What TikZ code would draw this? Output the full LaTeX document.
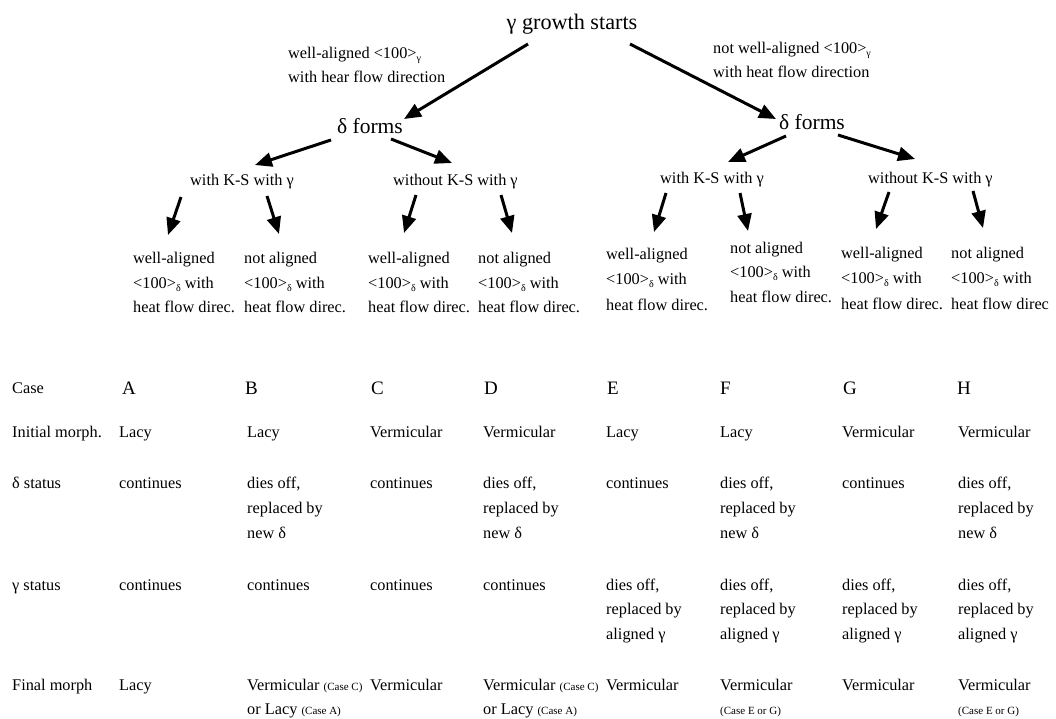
\documentclass[tikz,border=0pt]{standalone}
\usepackage{fontspec}
\setmainfont{Liberation Serif}
\usetikzlibrary{arrows.meta}
\newcommand\sbs[1]{\raisebox{-3pt}{\fontsize{10}{10}\selectfont #1}}
\newcommand\smc[1]{{\fontsize{11}{11}\selectfont #1}}
\tikzset{
 txt/.style={font=\fontsize{16.3}{19}\selectfont, inner sep=0pt, anchor=base west},
 big/.style={font=\fontsize{21.5}{24}\selectfont, inner sep=0pt, anchor=base},
 hdr/.style={font=\fontsize{19}{22}\selectfont, inner sep=0pt, anchor=base west},
 arr/.style={line width=3pt, -{Triangle[length=17pt,width=14pt]}},
}
\begin{document}
\begin{tikzpicture}[x=1pt,y=-1pt]
\useasboundingbox (0,0) rectangle (1056,718);
% tree
\node[big, font=\fontsize{22.2}{24}\selectfont] (top) at (572,29) {γ growth starts};
\node[txt] (lw1) at (288,58) {well-aligned <100>\sbs{γ}};
\node[txt] (lw2) at (288,82) {with hear flow direction};
\node[txt] (rw1) at (713,53) {not well-aligned <100>\sbs{γ}};
\node[txt] (rw2) at (713,77) {with heat flow direction};
\node[big] (dL) at (370,133) {δ forms};
\node[big] (dR) at (812,129) {δ forms};
\node[txt] (ksL) at (190,185) {with K-S with γ};
\node[txt] (nksL) at (393,185) {without K-S with γ};
\node[txt] (ksR) at (660,183) {with K-S with γ};
\node[txt] (nksR) at (868,183) {without K-S with γ};
% leaves
\node[txt] (l1a) at (133,263) {well-aligned};
\node[txt] (l1b) at (133,288) {<100>\sbs{δ} with};
\node[txt] (l1c) at (133,312) {heat flow direc.};
\node[txt] (l2a) at (244,263) {not aligned};
\node[txt] (l2b) at (244,288) {<100>\sbs{δ} with};
\node[txt] (l2c) at (244,312) {heat flow direc.};
\node[txt] (l3a) at (368,263) {well-aligned};
\node[txt] (l3b) at (368,288) {<100>\sbs{δ} with};
\node[txt] (l3c) at (368,312) {heat flow direc.};
\node[txt] (l4a) at (478,263) {not aligned};
\node[txt] (l4b) at (478,288) {<100>\sbs{δ} with};
\node[txt] (l4c) at (478,312) {heat flow direc.};
\node[txt] (l5a) at (606,259) {well-aligned};
\node[txt] (l5b) at (606,284) {<100>\sbs{δ} with};
\node[txt] (l5c) at (606,310) {heat flow direc.};
\node[txt] (l6a) at (730,253) {not aligned};
\node[txt] (l6b) at (730,277) {<100>\sbs{δ} with};
\node[txt] (l6c) at (730,302) {heat flow direc.};
\node[txt] (l7a) at (841,258) {well-aligned};
\node[txt] (l7b) at (841,283) {<100>\sbs{δ} with};
\node[txt] (l7c) at (841,309) {heat flow direc.};
\node[txt] (l8a) at (951,258) {not aligned};
\node[txt] (l8b) at (951,283) {<100>\sbs{δ} with};
\node[txt] (l8c) at (951,309) {heat flow direc};
% arrows
\coordinate (a1s) at (528,44);  \coordinate (a1e) at (404,119);
\coordinate (a2s) at (630,44);  \coordinate (a2e) at (776,119);
\coordinate (b1s) at (331,140); \coordinate (b1e) at (255,165);
\coordinate (b2s) at (391,139); \coordinate (b2e) at (452,163);
\coordinate (b3s) at (786,136); \coordinate (b3e) at (728,162);
\coordinate (b4s) at (838,135); \coordinate (b4e) at (915,159);
\coordinate (c1s) at (181,197); \coordinate (c1e) at (168,235);
\coordinate (c2s) at (267,196); \coordinate (c2e) at (279,234);
\coordinate (c3s) at (416,195); \coordinate (c3e) at (404,233);
\coordinate (c4s) at (501,195); \coordinate (c4e) at (512,233);
\coordinate (c5s) at (666,193); \coordinate (c5e) at (654,232);
\coordinate (c6s) at (740,193); \coordinate (c6e) at (748,231);
\coordinate (c7s) at (889,192); \coordinate (c7e) at (876,229);
\coordinate (c8s) at (973,191); \coordinate (c8e) at (983,228);
\foreach \p in {a1,a2,b1,b2,b3,b4,c1,c2,c3,c4,c5,c6,c7,c8}
  \draw[arr] (\p s) -- (\p e);
% table
\node[txt] (hCase) at (12,393) {Case};
\node[hdr] (hA) at (122,394) {A};
\node[hdr] (hB) at (245,394) {B};
\node[hdr] (hC) at (371,394) {C};
\node[hdr] (hD) at (484,394) {D};
\node[hdr] (hE) at (607,394) {E};
\node[hdr] (hF) at (720,394) {F};
\node[hdr] (hG) at (843,394) {G};
\node[hdr] (hH) at (957,394) {H};
\node[txt] (hIni) at (12,437) {Initial morph.};
\node[txt] (iA) at (119,437) {Lacy};
\node[txt] (iB) at (247,437) {Lacy};
\node[txt] (iC) at (370,437) {Vermicular};
\node[txt] (iD) at (483,437) {Vermicular};
\node[txt] (iE) at (606,437) {Lacy};
\node[txt] (iF) at (720,437) {Lacy};
\node[txt] (iG) at (842,437) {Vermicular};
\node[txt] (iH) at (958,437) {Vermicular};
\node[txt] (hDel) at (12,488) {δ status};
\node[txt] (dA) at (119,488) {continues};
\node[txt] (dB1) at (247,488) {dies off,};
\node[txt] (dB2) at (247,513) {replaced by};
\node[txt] (dB3) at (247,538) {new δ};
\node[txt] (dC) at (370,488) {continues};
\node[txt] (dD1) at (483,488) {dies off,};
\node[txt] (dD2) at (483,513) {replaced by};
\node[txt] (dD3) at (483,538) {new δ};
\node[txt] (dE) at (606,488) {continues};
\node[txt] (dF1) at (720,488) {dies off,};
\node[txt] (dF2) at (720,513) {replaced by};
\node[txt] (dF3) at (720,538) {new δ};
\node[txt] (dG) at (842,488) {continues};
\node[txt] (dH1) at (958,488) {dies off,};
\node[txt] (dH2) at (958,513) {replaced by};
\node[txt] (dH3) at (958,538) {new δ};
\node[txt] (hGam) at (12,590) {γ status};
\node[txt] (gA) at (119,590) {continues};
\node[txt] (gB) at (247,590) {continues};
\node[txt] (gC) at (370,590) {continues};
\node[txt] (gD) at (483,590) {continues};
\foreach \c/\x in {E/606,F/720,G/842,H/958}{
  \node[txt] (g\c1) at (\x,590) {dies off,};
  \node[txt] (g\c2) at (\x,614) {replaced by};
  \node[txt] (g\c3) at (\x,639) {aligned γ};
}
\node[txt] (hFin) at (12,690) {Final morph};
\node[txt] (fA) at (119,690) {Lacy};
\node[txt] (fB1) at (247,690) {Vermicular \smc{(Case C)}};
\node[txt] (fB2) at (247,714) {or Lacy \smc{(Case A)}};
\node[txt] (fC) at (370,690) {Vermicular};
\node[txt] (fD1) at (483,690) {Vermicular \smc{(Case C)}};
\node[txt] (fD2) at (483,714) {or Lacy \smc{(Case A)}};
\node[txt] (fE) at (606,690) {Vermicular};
\node[txt] (fF1) at (720,690) {Vermicular};
\node[txt] (fF2) at (720,714) {\smc{(Case E or G)}};
\node[txt] (fG) at (842,690) {Vermicular};
\node[txt] (fH1) at (958,690) {Vermicular};
\node[txt] (fH2) at (958,714) {\smc{(Case E or G)}};
\end{tikzpicture}
\end{document}
